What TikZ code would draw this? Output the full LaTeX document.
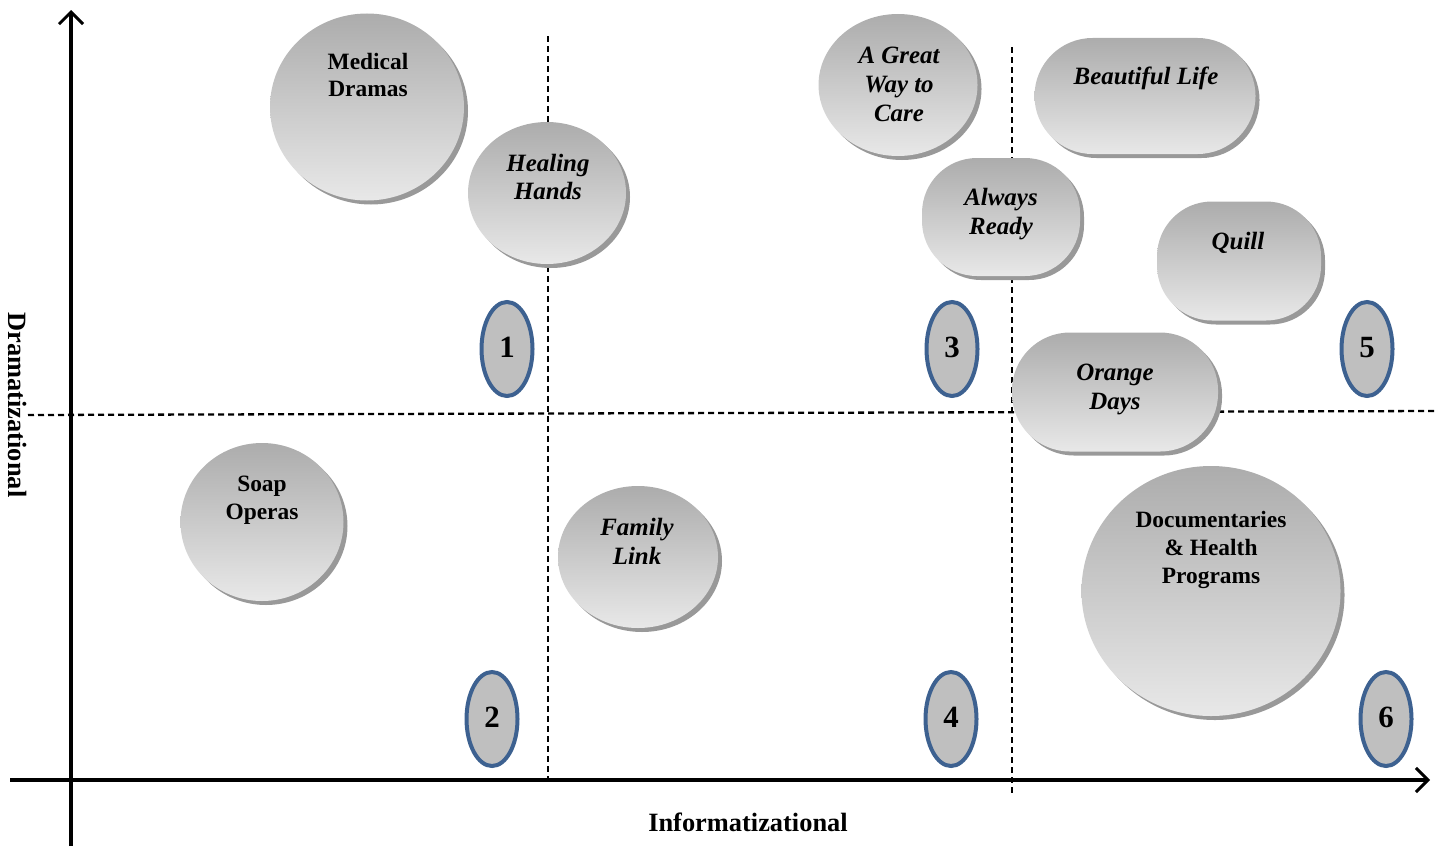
\documentclass[tikz,border=0pt]{standalone}
\usepackage{fontspec}
\setmainfont{Liberation Serif}
\usetikzlibrary{arrows.meta,shapes.geometric,shadows,positioning}

\definecolor{ringblue}{HTML}{3D6190}
\definecolor{ringfill}{HTML}{BFBFBF}

\tikzset{
  bubble/.style={top color=gray!65, bottom color=gray!18, draw=none, inner sep=0pt,
    drop shadow={shadow xshift=4bp, shadow yshift=-4bp, fill=black!40, opacity=1}},
  roundbubble/.style={bubble, ellipse},
  pillbubble/.style={bubble, rectangle, rounded corners=#1},
  btext/.style={font=\fontsize{23.5}{28}\selectfont\bfseries, align=center, inner sep=0pt},
  itext/.style={btext, font=\fontsize{25}{29}\selectfont\bfseries\itshape},
  numring/.style={ellipse, draw=ringblue, line width=4bp, fill=ringfill, inner sep=0pt,
    minimum width=51bp, minimum height=94bp, font=\fontsize{31}{34}\selectfont\bfseries},
  quadline/.style={line width=2.3bp, dash pattern=on 6bp off 4bp},
  axis/.style={line width=3.5bp, -{Straight Barb[length=12bp,width=24bp,line width=3bp]}},
  axlabel/.style={font=\fontsize{26.5}{30}\selectfont\bfseries, inner sep=0pt}
}

\begin{document}
\begin{tikzpicture}[x=1bp, y=-1bp]
    \useasboundingbox (0,0) rectangle (1440,846);

    % quadrant lines
    \coordinate (v1top) at (548,36);
    \coordinate (v1bot) at (548,782);
    \coordinate (v2top) at (1012,47);
    \coordinate (v2bot) at (1012,795);
    \coordinate (hleft) at (28,415);
    \coordinate (hright) at (1435,411);
    \draw[quadline] (v1top) -- (v1bot);
    \draw[quadline] (v2top) -- (v2bot);
    \draw[quadline] (hleft) -- (hright);

    % bubbles
    \node[roundbubble, minimum width=194bp, minimum height=187bp] (md) at (367,107) {};
    \node[roundbubble, minimum width=158bp, minimum height=142bp] (hh) at (547,193) {};
    \node[roundbubble, minimum width=159bp, minimum height=142bp] (gw) at (898,85) {};
    \node[pillbubble=58bp, minimum width=221bp, minimum height=116bp] (bl) at (1145,96) {};
    \node[pillbubble=55bp, minimum width=158bp, minimum height=118bp] (ar) at (1001,217) {};
    \node[pillbubble=55bp, minimum width=164bp, minimum height=119bp] (qu) at (1239,261) {};
    \node[pillbubble=58bp, minimum width=206bp, minimum height=119bp] (od) at (1115,392) {};
    \node[roundbubble, minimum width=163bp, minimum height=158bp] (so) at (262,522) {};
    \node[roundbubble, minimum width=160bp, minimum height=142bp] (fl) at (638,557) {};
    \node[roundbubble, minimum width=259bp, minimum height=250bp] (dh) at (1211,591) {};

    % bubble texts
    \node[btext] (mdtext) at (368,75) {Medical\\Dramas};
    \node[itext] (hhtext) at (548,177) {Healing\\Hands};
    \node[itext] (gwtext) at (899,84) {A Great\\Way to\\Care};
    \node[itext] (bltext) at (1146,78) {Beautiful Life};
    \node[itext] (artext) at (1001,214) {Always\\Ready};
    \node[itext] (qutext) at (1238,243) {Quill};
    \node[itext] (odtext) at (1115,389) {Orange\\Days};
    \node[btext] (sotext) at (262,500) {Soap\\Operas};
    \node[itext] (fltext) at (637,541) {Family\\Link};
    \node[btext] (dhtext) at (1211,550) {Documentaries\\\& Health\\Programs};

    % quadrant numbers
    \node[numring] (n1) at (507,349) {\raisebox{4bp}{1}};
    \node[numring] (n2) at (492,719) {\raisebox{4bp}{2}};
    \node[numring] (n3) at (952,349) {\raisebox{4bp}{3}};
    \node[numring] (n4) at (951,719) {\raisebox{4bp}{4}};
    \node[numring] (n5) at (1367,349) {\raisebox{4bp}{5}};
    \node[numring] (n6) at (1386,719) {\raisebox{4bp}{6}};

    % axes
    \coordinate (xstart) at (10,780);
    \coordinate (xend) at (1430,780);
    \coordinate (ystart) at (71,846);
    \coordinate (yend) at (71,10);
    \draw[axis] (xstart) -- (xend);
    \draw[axis] (ystart) -- (yend);
    \node[axlabel] (xlabel) at (748,822) {Informatizational};
    \node[axlabel, rotate=-90] (ylabel) at (18,405) {Dramatizational};
\end{tikzpicture}
\end{document}
